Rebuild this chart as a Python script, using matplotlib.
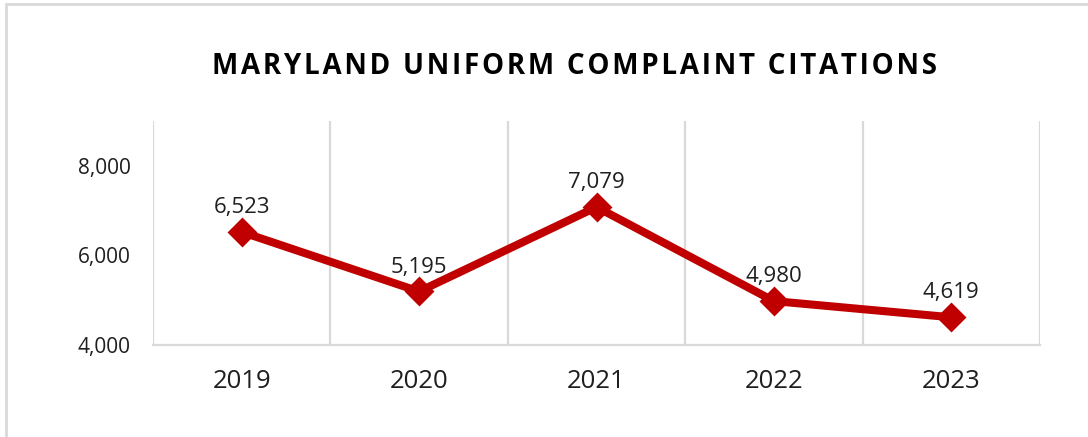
import matplotlib; matplotlib.use('Agg')
import matplotlib.pyplot as plt, matplotlib.patches as mpatches

years = ['2019', '2020', '2021', '2022', '2023']
citations = [6523, 5195, 7079, 4980, 4619]
yticks = [4000, 6000, 8000]

RED, GRID, TXT = '#C00000', '#D9D9D9', '#1f1f1f'
FONT = ['Open Sans', 'DejaVu Sans']
plt.rcParams['font.family'] = FONT

fig = plt.figure(figsize=(10.88, 4.37), dpi=100, facecolor='white')
ax = fig.add_axes([153/1088, 1-345/437, (1040-153)/1088, (345-121)/437])

x = range(len(years))
ax.plot(x, citations, color=RED, lw=5.8, marker='D', ms=13, mec=RED, mfc=RED, mew=2,
        solid_joinstyle='round', solid_capstyle='round', zorder=3)
for xi, v in zip(x, citations):
    ax.annotate(f'{v:,}', (xi, v), xytext=(0, 10), textcoords='offset points',
                ha='center', va='bottom', fontsize=16, color=TXT)

ax.set_xlim(-0.5, len(years)-0.5); ax.set_ylim(4000, 9000)
ax.set_xticks(list(x)); ax.set_xticklabels(years, fontsize=18.5, color=TXT)
ax.set_xticks([i-0.5 for i in range(len(years)+1)], minor=True)
ax.set_yticks(yticks); ax.set_yticklabels([f'{t:,}' for t in yticks], fontsize=15, color=TXT)
ax.tick_params(axis='x', which='both', length=0, pad=17)
ax.tick_params(axis='y', length=0, pad=16)
ax.grid(True, axis='x', which='minor', color=GRID, lw=1.6)
for s in ['top', 'right', 'left']: ax.spines[s].set_visible(False)
ax.spines['bottom'].set_color(GRID); ax.spines['bottom'].set_linewidth(1.6)

title = '\u200a'.join('MARYLAND UNIFORM COMPLAINT CITATIONS')
fig.text(575/1088, 1-66/437, title, ha='center', va='center', fontsize=20,
         fontweight='bold', color='black', family=FONT)

# outer chart frame (only top/left visible in the crop)
fig.patches.append(mpatches.Rectangle((6/1088, -0.2), 1.2, 1.2-4/437, fill=False,
                   edgecolor=GRID, lw=2, transform=fig.transFigure, figure=fig))

plt.savefig('out.png', dpi=100, facecolor='white'); plt.close()
